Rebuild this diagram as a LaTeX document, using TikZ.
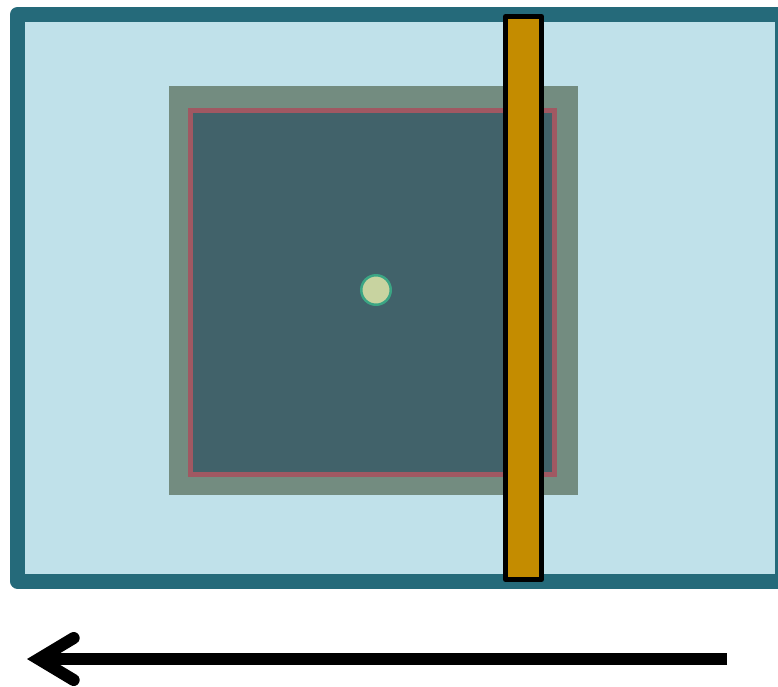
\documentclass[tikz,border=0pt]{standalone}
\usepackage{xparse}
\usetikzlibrary{calc,arrows.meta}
\definecolor{Frame}{RGB}{ 37, 106, 122 }
\definecolor{Sky}{RGB}{ 192, 225, 234 }
\definecolor{Moss}{RGB}{ 115, 140, 128 }
\definecolor{Slate}{RGB}{ 65, 98, 106 }
\definecolor{Rose}{RGB}{ 160, 88, 98 }
\definecolor{Gold}{HTML}{C48C00}
\definecolor{Seed}{RGB}{ 200, 211, 160 }
\definecolor{Teal}{RGB}{ 59, 165, 132 }
\NewDocumentCommand{\Plate}{O{(0,0)}}{
    \begin{scope}[shift={#1}]
    \fill[Moss] (-207,-204) rectangle (202,205);
    \draw[Rose, line width=5pt, fill=Slate] (-186,-180) rectangle (178,184);
    \end{scope}
}
\NewDocumentCommand{\Bar}{O{(0,0)}}{
    \begin{scope}[shift={#1}]
    \draw[black, line width=5pt, line join=round, fill=Gold] (-18,0) rectangle (18,563);
    \end{scope}
}
\newcommand{\Canvas}{
\useasboundingbox (0,0) rectangle (778,686);

\coordinate (frame-nw) at (17.5,14.5);
\coordinate (frame-se) at (782.5,581);
\coordinate (plate-center) at (376,290);
\coordinate (bar-top) at (523.5,16.5);
\coordinate (arrow-tail) at (727,659);
\coordinate (arrow-head) at (27,659);
}

\begin{document}
\begin{tikzpicture}[x=1pt, y=-1pt]
\Canvas
\draw[Frame, line width=15pt, line join=round, fill=Sky] (frame-nw) rectangle (frame-se);

\Plate[(plate-center)]
\Bar[(bar-top)]

\node[circle, draw=Teal, fill=Seed, line width=2.5pt, minimum size=29.5pt, inner sep=0pt]
    (seed) at (plate-center) {};

\draw[black, line width=12pt, -{Straight Barb[length=35pt, width=42pt, line cap=round]}]
    (arrow-tail) -- (arrow-head);
\end{tikzpicture}
\end{document}
